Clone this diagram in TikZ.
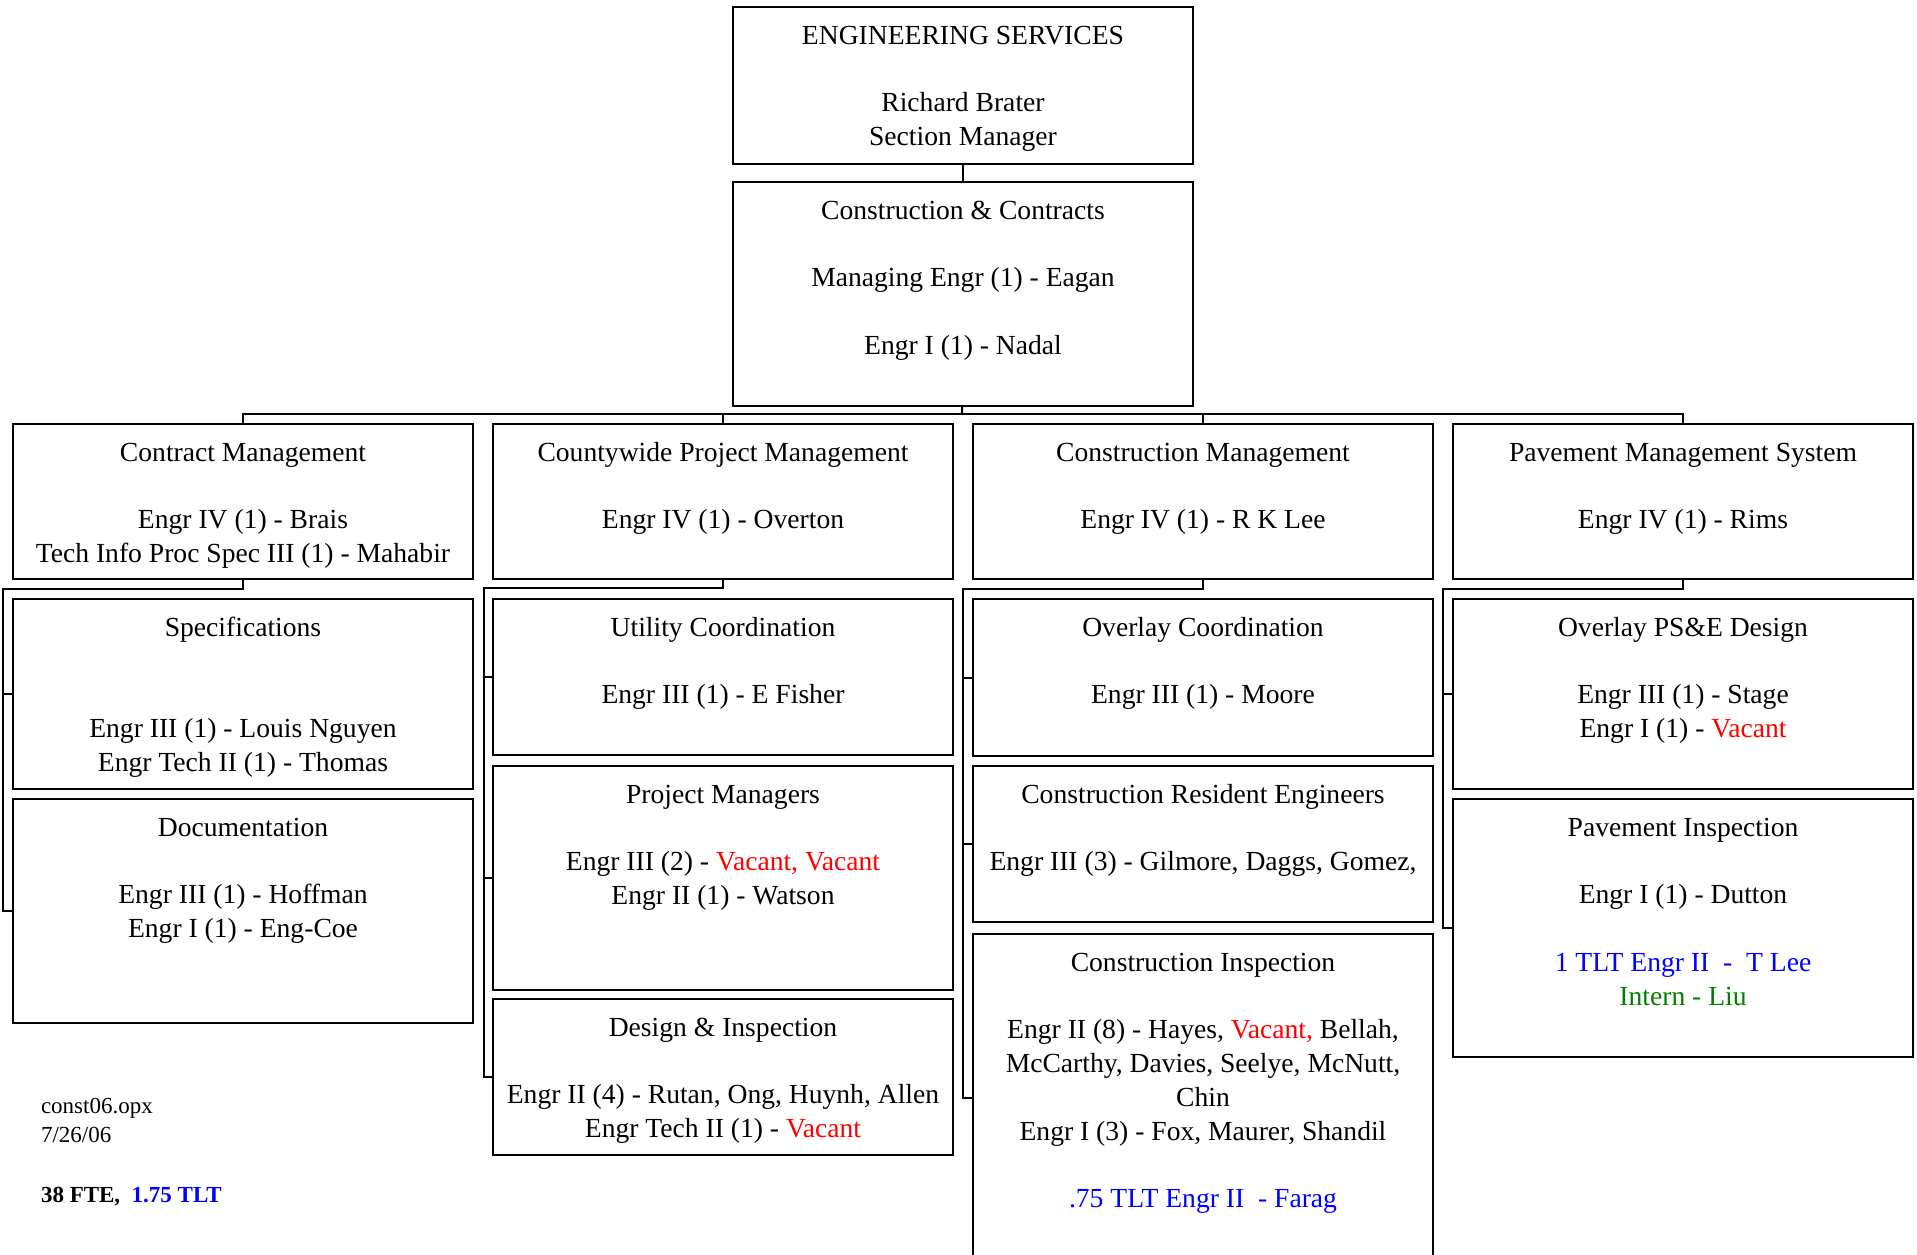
\documentclass[tikz,border=0pt]{standalone}
\usepackage{fontspec}
\setmainfont{Liberation Serif}
\usepackage{tikz}
\usetikzlibrary{positioning}
\definecolor{vacant}{RGB}{255,0,0}
\definecolor{tlt}{RGB}{0,0,255}
\definecolor{intern}{RGB}{0,128,0}
\newcommand{\emptyrow}{\\[\baselineskip]}
\newcommand{\vac}[1]{\textcolor{vacant}{#1}}

\begin{document}
\begin{tikzpicture}[x=0.5pt, y=-0.5pt, line width=1pt,
    every node/.style={font=\fontsize{13.8}{16.9}\selectfont},
    orgbox/.style={draw, rectangle, anchor=north west, inner xsep=1pt, inner ysep=0pt,
      text width=228pt, align=flush center, text height=18.5pt, text depth=#1-18.5pt},
    note/.style={anchor=base west, inner sep=0pt, font=\fontsize{11.5}{14}\selectfont}]
            \useasboundingbox (0,0) rectangle (1917,1254);
            % Cajas
            \node[orgbox=78.5pt] (es) at (732,6) {ENGINEERING SERVICES\emptyrow Richard Brater\\ Section Manager};
            \node[orgbox=112pt] (cc) at (732,181) {Construction \& Contracts\emptyrow Managing Engr (1) - Eagan\emptyrow Engr I (1) - Nadal};
            \node[orgbox=77.5pt] (ctm) at (12,423) {Contract Management\emptyrow Engr IV (1) - Brais\\ Tech Info Proc Spec III (1) - Mahabir};
            \node[orgbox=77.5pt] (cpm) at (492,423) {Countywide Project Management\emptyrow Engr IV (1) - Overton};
            \node[orgbox=77.5pt] (csm) at (972,423) {Construction Management\emptyrow Engr IV (1) - R K Lee};
            \node[orgbox=77.5pt] (pms) at (1452,423) {Pavement Management System\emptyrow Engr IV (1) - Rims};
            \node[orgbox=95pt] (spec) at (12,598) {Specifications\\[2\baselineskip] Engr III (1) - Louis Nguyen\\ Engr Tech II (1) - Thomas};
            \node[orgbox=112pt] (docu) at (12,798) {Documentation\emptyrow Engr III (1) - Hoffman\\ Engr I (1) - Eng-Coe};
            \node[orgbox=78pt] (util) at (492,598) {Utility Coordination\emptyrow Engr III (1) - E Fisher};
            \node[orgbox=112pt] (pm) at (492,765) {Project Managers\emptyrow Engr III (2) - \vac{Vacant, Vacant}\\ Engr II (1) - Watson};
            \node[orgbox=78pt] (dni) at (492,998) {Design \& Inspection\emptyrow Engr II (4) - Rutan, Ong, Huynh, Allen\\ Engr Tech II (1) - \vac{Vacant}};
            \node[orgbox=78.5pt] (ovc) at (972,598) {Overlay Coordination\emptyrow Engr III (1) - Moore};
            \node[orgbox=78pt] (cre) at (972,765) {Construction Resident Engineers\emptyrow Engr III (3) - Gilmore, Daggs, Gomez,};
            \node[orgbox=163.5pt] (ci) at (972,933) {Construction Inspection\emptyrow Engr II (8) - Hayes, \vac{Vacant,} Bellah,\\ McCarthy, Davies, Seelye, McNutt,\\ Chin\\ Engr I (3) - Fox, Maurer, Shandil\emptyrow \textcolor{tlt}{.75 TLT Engr II\ \ - Farag}};
            \node[orgbox=95pt] (ops) at (1452,598) {Overlay PS\&E Design\emptyrow Engr III (1) - Stage\\ Engr I (1) - \vac{Vacant}};
            \node[orgbox=129pt] (pvi) at (1452,798) {Pavement Inspection\emptyrow Engr I (1) - Dutton\emptyrow \textcolor{tlt}{1 TLT Engr II\ \ -\ \ T Lee}\\ \textcolor{intern}{Intern - Liu}};

            % Notas
            \node[note] (file) at (40,1113) {const06.opx};
            \node[note] (date) at (40,1142) {7/26/06};
            \node[note, font=\fontsize{11.5}{14}\selectfont\bfseries] (fte) at (40,1202) {38 FTE,\ \ \textcolor{tlt}{1.75 TLT}};

            % Conexiones
            \coordinate (bus) at (962,414);
            \coordinate (ctm-j) at (3,589);
            \coordinate (cpm-j) at (484,588);
            \coordinate (csm-j) at (963,589);
            \coordinate (pms-j) at (1443,589);
            \draw (es) -- (cc);
            \draw (cc) -- (bus);
            \draw (ctm.north) |- (bus) -| (pms.north);
            \draw (cpm.north) |- (bus);
            \draw (csm.north) |- (bus);
            \draw (ctm.south) |- (ctm-j) |- (docu.west);
            \draw (ctm-j) |- (spec.west);
            \draw (cpm.south) |- (cpm-j) |- (dni.west);
            \draw (cpm-j) |- (util.west);
            \draw (cpm-j) |- (pm.west);
            \draw (csm.south) |- (csm-j) |- (ci.west);
            \draw (csm-j) |- (ovc.west);
            \draw (csm-j) |- (cre.west);
            \draw (pms.south) |- (pms-j) |- (pvi.west);
            \draw (pms-j) |- (ops.west);
\end{tikzpicture}
\end{document}
